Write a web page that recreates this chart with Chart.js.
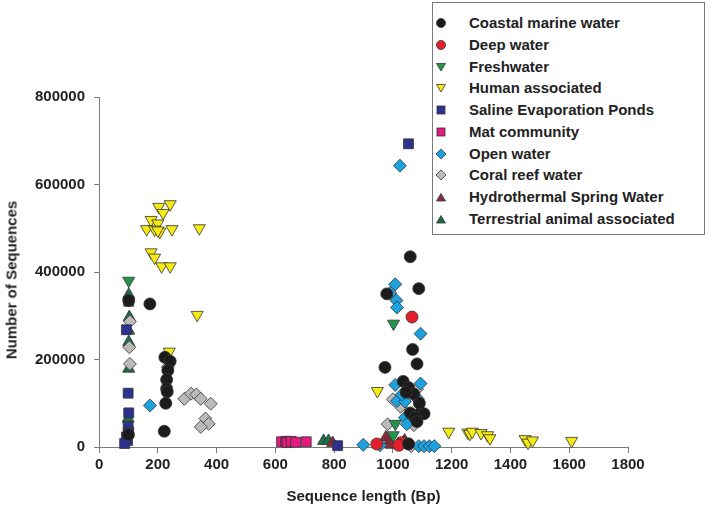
<!DOCTYPE html>
<html>
<head>
<meta charset="utf-8">
<script src="https://cdn.jsdelivr.net/npm/chart.js@4"></script>
<style>
  body { margin: 0; background: #fff; }
  #wrap { position: relative; width: 712px; height: 513px; font-family: "Liberation Sans", Arial, sans-serif; }
  #legend { position: absolute; left: 432px; top: 2px; width: 273px; height: 233px; border: 1px solid #7a7a7a; background: #fff; box-sizing: border-box; }
  .row { position: absolute; left: 0; height: 20px; font-weight: bold; font-size: 15px; color: #222; line-height: 20px; }
  .row svg { position: absolute; left: 2px; top: 4px; }
  .row span { position: absolute; left: 36px; white-space: nowrap; }
  #ytitle { position: absolute; left: 11px; top: 280px; transform: translate(-50%, -50%) rotate(-90deg); font-weight: bold; font-size: 15px; color: #222; white-space: nowrap; }
</style>
</head>
<body>
<div id="wrap">
  <canvas id="chart" width="712" height="513"></canvas>
  <div id="legend"></div>
  <div id="ytitle">Number of Sequences</div>
</div>
<script>
// ---------------------------------------------------------------
// DATA  ([sequence length, number of sequences])
// ---------------------------------------------------------------
const coastalMarine = [[101,335000],[100,28000],[173,327000],[224,205000],[242,196000],[234,175000],[230,154000],[230,133000],[232,126000],[227,100000],[222,36000],
  [1088,362000],[979,350000],[1059,435000],[1067,223000],[1082,190000],[973,182000],[1035,150000],[1053,136000],[1071,121000],[1059,78000],[1094,78000],[1106,76000],[1076,67000],[1053,7000],[1082,58000],[1045,125000],[1090,100000]];
const deepWater = [[1065,297000],[945,7000],[1029,10000],[1053,7000],[1020,4000]];
const freshwater = [[101,380000],[1002,282000],[1008,53000],[1001,27000]];
const humanAssociated = [[203,549000],[242,555000],[218,535000],[177,519000],[200,511000],[162,498000],[189,497000],[207,492000],[200,495000],[248,498000],[341,500000],
  [177,445000],[189,433000],[213,413000],[242,413000],[334,302000],[239,218000],[947,128000],
  [1190,35000],[1255,33000],[1262,30000],[1270,35000],[1300,32000],[1322,27000],[1330,20000],[1450,18000],[1460,10000],[1475,15000],[1608,14000]];
const salinePonds = [[101,333000],[93,268000],[99,123000],[101,78000],[99,46000],[101,34000],[93,23000],[97,15000],[87,8000],[812,3000],[1053,693000]];
const matCommunity = [[621,12000],[635,13000],[640,10000],[654,13000],[669,11000],[705,12000]];
const openWater = [[173,95000],[899,5000],[1024,643000],[1008,372000],[991,352000],[1012,335000],[1014,319000],[1094,259000],[1008,142000],[1094,145000],[1014,105000],[1041,104000],[1041,67000],[1047,52000],[1030,120000],[1085,110000],
  [956,4000],[1088,2000],[1106,2000],[1124,2000],[1141,2000]];
const coralReef = [[105,287000],[103,228000],[105,190000],[234,183000],[290,110000],[313,122000],[331,120000],[346,110000],[380,99000],[362,65000],[373,53000],[346,46000],
  [1082,132000],[1074,117000],[1000,109000],[1026,92000],[1059,59000],[1071,50000],[982,52000],[1062,2000]];
const hydrothermal = [[795,9000],[976,22000],[988,13000],[1018,7000],[1035,9000],[994,5000],[1040,15000]];
const terrestrialAnimal = [[101,348000],[103,297000],[101,266000],[101,240000],[101,179000],[99,65000],[764,14000],[781,14000]];

const xTicks = [0, 200, 400, 600, 800, 1000, 1200, 1400, 1600, 1800];
const yTicks = [0, 200000, 400000, 600000, 800000];

const FONT = '"Liberation Sans", Arial, sans-serif';

// name, data, colour, point style, rotation, radius
const series = [
  ['Coastal marine water', coastalMarine, '#1c1c1c', 'circle', 0, 6],
  ['Deep water', deepWater, '#e3202a', 'circle', 0, 6],
  ['Freshwater', freshwater, '#23954a', 'triangle', 180, 7],
  ['Human associated', humanAssociated, '#f5ea14', 'triangle', 180, 7],
  ['Saline Evaporation Ponds', salinePonds, '#2d3190', 'rect', 0, 7],
  ['Mat community', matCommunity, '#e5197f', 'rect', 0, 7],
  ['Open water', openWater, '#1ba2df', 'rectRot', 0, 6.5],
  ['Coral reef water', coralReef, '#bcb9ba', 'rectRot', 0, 6.5],
  ['Hydrothermal Spring Water', hydrothermal, '#8a2a38', 'triangle', 0, 7],
  ['Terrestrial animal associated', terrestrialAnimal, '#1b6e45', 'triangle', 0, 7]
];

const datasets = series.map(s => ({
  label: s[0],
  data: s[1].map(p => ({ x: p[0], y: p[1] })),
  backgroundColor: s[2],
  borderColor: '#333',
  borderWidth: 0.8,
  pointStyle: s[3],
  rotation: s[4],
  pointRadius: s[5],
  clip: false
}));

//---------------------------------------------------------------
// LEGEND (html, sits over the plot like the original)
//---------------------------------------------------------------
function markerSvg(style, color, rot) {
  let shape = '';
  if (style == 'circle') shape = '<circle cx="6" cy="6" r="4.5" fill="' + color + '" stroke="#333" stroke-width="0.8"/>';
  else if (style == 'rect') shape = '<rect x="2" y="2" width="8" height="8" fill="' + color + '" stroke="#333" stroke-width="0.8"/>';
  else if (style == 'rectRot') shape = '<polygon points="6,1 11,6 6,11 1,6" fill="' + color + '" stroke="#333" stroke-width="0.8"/>';
  else if (rot == 180) shape = '<polygon points="1.5,2.5 10.5,2.5 6,10" fill="' + color + '" stroke="#333" stroke-width="0.8"/>';
  else shape = '<polygon points="1.5,10 10.5,10 6,2.5" fill="' + color + '" stroke="#333" stroke-width="0.8"/>';
  return '<svg width="12" height="12">' + shape + '</svg>';
}

let legend = document.getElementById('legend');
for (let i = 0; i < series.length; i++) {
  let row = document.createElement('div');
  row.className = 'row';
  row.style.top = (10.3 + i * 21.7) + 'px';
  row.innerHTML = markerSvg(series[i][3], series[i][2], series[i][4]) + '<span>' + series[i][0] + '</span>';
  legend.appendChild(row);
}

//---------------------------------------------------------------
// CHART
//---------------------------------------------------------------
let ctx = document.getElementById('chart').getContext('2d');
let chart = new Chart(ctx, {
  type: 'scatter',
  data: { datasets: datasets },
  options: {
    responsive: false,
    animation: false,
    events: [],
    layout: { padding: { left: 26, right: 84, top: 97, bottom: 3 } },
    plugins: { legend: { display: false }, tooltip: { enabled: false } },
    scales: {
      x: {
        type: 'linear',
        min: 0, max: 1800,
        afterBuildTicks: axis => { axis.ticks = xTicks.map(v => ({ value: v })); },
        ticks: { color: '#222', font: { family: FONT, size: 15, weight: 'bold' }, padding: 3, maxRotation: 0, callback: v => String(v) },
        grid: { drawOnChartArea: false, drawTicks: true, tickLength: 6, color: '#7a7a7a' },
        border: { color: '#7a7a7a', width: 1 },
        title: { display: true, text: 'Sequence length (Bp)', color: '#222', font: { family: FONT, size: 15, weight: 'bold' }, padding: { top: 11, bottom: 4 } }
      },
      y: {
        type: 'linear',
        min: 0, max: 800000,
        afterBuildTicks: axis => { axis.ticks = yTicks.map(v => ({ value: v })); },
        ticks: { color: '#222', font: { family: FONT, size: 15, weight: 'bold' }, padding: 9, callback: v => String(v) },
        grid: { drawOnChartArea: false, drawTicks: true, tickLength: 5, color: '#7a7a7a' },
        border: { color: '#7a7a7a', width: 1 }
      }
    }
  }
});
</script>
</body>
</html>
